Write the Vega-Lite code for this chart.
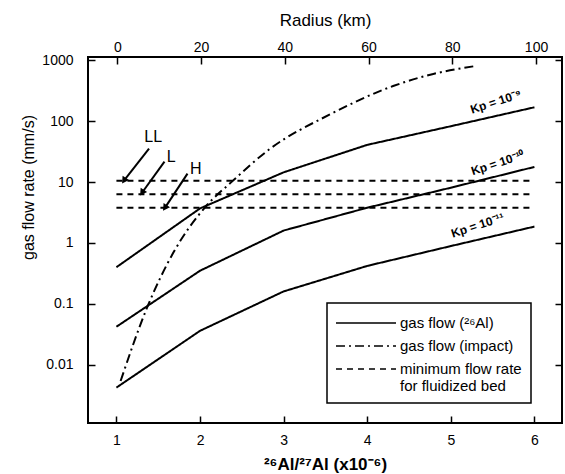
{
  "$schema": "https://vega.github.io/schema/vega-lite/v6.json",
  "width": 474,
  "height": 366,
  "autosize": {"type": "none"},
  "padding": {"left": 88, "top": 57, "right": 3, "bottom": 51},
  "config": {
    "font": "Liberation Sans",
    "view": {"stroke": "black", "strokeWidth": 2},
    "axis": {"grid": false, "domain": false, "tickColor": "black", "tickWidth": 1.5, "tickSize": -7, "labelColor": "black", "titleColor": "black", "labelFontSize": 14, "titleFontSize": 16, "titleFontWeight": "normal", "labelPadding": 10},
    "legend": {"orient": "none", "legendX": 239, "legendY": 246, "strokeColor": "black", "strokeWidth": 1.5, "padding": 9, "symbolType": "M-3,0H3", "symbolSize": 400, "symbolOffset": 19, "labelOffset": 23, "symbolStrokeWidth": 1.5, "symbolStrokeColor": "black", "labelFontSize": 15, "labelColor": "black", "rowPadding": 4, "labelLimit": 400, "title": null}
  },
  "datasets": {
    "curves": [
      {"curve": "kp9", "kind": "gas flow (²⁶Al)", "x": 1, "y": 0.40},
      {"curve": "kp9", "kind": "gas flow (²⁶Al)", "x": 2, "y": 3.7},
      {"curve": "kp9", "kind": "gas flow (²⁶Al)", "x": 3, "y": 14.5},
      {"curve": "kp9", "kind": "gas flow (²⁶Al)", "x": 4, "y": 41},
      {"curve": "kp9", "kind": "gas flow (²⁶Al)", "x": 5, "y": 83},
      {"curve": "kp9", "kind": "gas flow (²⁶Al)", "x": 6, "y": 170},
      {"curve": "kp10", "kind": "gas flow (²⁶Al)", "x": 1, "y": 0.042},
      {"curve": "kp10", "kind": "gas flow (²⁶Al)", "x": 2, "y": 0.35},
      {"curve": "kp10", "kind": "gas flow (²⁶Al)", "x": 3, "y": 1.6},
      {"curve": "kp10", "kind": "gas flow (²⁶Al)", "x": 4, "y": 3.8},
      {"curve": "kp10", "kind": "gas flow (²⁶Al)", "x": 5, "y": 8.1},
      {"curve": "kp10", "kind": "gas flow (²⁶Al)", "x": 6, "y": 17.8},
      {"curve": "kp11", "kind": "gas flow (²⁶Al)", "x": 1, "y": 0.0042},
      {"curve": "kp11", "kind": "gas flow (²⁶Al)", "x": 2, "y": 0.036},
      {"curve": "kp11", "kind": "gas flow (²⁶Al)", "x": 3, "y": 0.16},
      {"curve": "kp11", "kind": "gas flow (²⁶Al)", "x": 4, "y": 0.42},
      {"curve": "kp11", "kind": "gas flow (²⁶Al)", "x": 5, "y": 0.89},
      {"curve": "kp11", "kind": "gas flow (²⁶Al)", "x": 6, "y": 1.86},
      {"curve": "LL", "kind": "minimum flow rate for fluidized bed", "x": 1.0, "y": 10.5},
      {"curve": "LL", "kind": "minimum flow rate for fluidized bed", "x": 6.0, "y": 10.5},
      {"curve": "L", "kind": "minimum flow rate for fluidized bed", "x": 1.0, "y": 6.3},
      {"curve": "L", "kind": "minimum flow rate for fluidized bed", "x": 6.0, "y": 6.3},
      {"curve": "H", "kind": "minimum flow rate for fluidized bed", "x": 1.0, "y": 3.8},
      {"curve": "H", "kind": "minimum flow rate for fluidized bed", "x": 6.0, "y": 3.8}
    ],
    "impact": [
      {"curve": "impact", "kind": "gas flow (impact)", "x": 1.05, "y": 0.0054},
      {"curve": "impact", "kind": "gas flow (impact)", "x": 1.37, "y": 0.089},
      {"curve": "impact", "kind": "gas flow (impact)", "x": 1.69, "y": 0.73},
      {"curve": "impact", "kind": "gas flow (impact)", "x": 2.06, "y": 3.86},
      {"curve": "impact", "kind": "gas flow (impact)", "x": 2.385, "y": 10.3},
      {"curve": "impact", "kind": "gas flow (impact)", "x": 2.83, "y": 34.7},
      {"curve": "impact", "kind": "gas flow (impact)", "x": 3.56, "y": 131},
      {"curve": "impact", "kind": "gas flow (impact)", "x": 4.31, "y": 380},
      {"curve": "impact", "kind": "gas flow (impact)", "x": 4.79, "y": 600},
      {"curve": "impact", "kind": "gas flow (impact)", "x": 5.27, "y": 800}
    ],
    "arrows": [
      {"name": "LL", "x": 1.39, "y": 35.5, "xh": 1.09, "yh": 10.6},
      {"name": "L", "x": 1.575, "y": 21.7, "xh": 1.306, "yh": 6.7},
      {"name": "H", "x": 1.85, "y": 13.8, "xh": 1.58, "yh": 3.77}
    ],
    "labels": [
      {"text": "LL", "x": 1.44, "y": 56},
      {"text": "L", "x": 1.656, "y": 26},
      {"text": "H", "x": 1.95, "y": 16.5}
    ],
    "kp": [
      {"text": "Kp = 10⁻⁹", "x": 5.54, "y": 210},
      {"text": "Kp = 10⁻¹⁰", "x": 5.56, "y": 20.6},
      {"text": "Kp = 10⁻¹¹", "x": 5.32, "y": 1.95}
    ],
    "top": [{"R": 0, "v": 1}, {"R": 100, "v": 1}]
  },
  "layer": [
    {
      "encoding": {
        "x": {"field": "x", "type": "quantitative", "scale": {"domain": [0.66, 6.33], "nice": false, "zero": false},
              "axis": {"orient": "bottom", "values": [1, 2, 3, 4, 5, 6], "format": "d", "labelPadding": 17, "title": "²⁶Al/²⁷Al (x10⁻⁶)", "titleFontSize": 17, "titleFontWeight": "bold", "titleY": 33}},
        "y": {"field": "y", "type": "quantitative", "scale": {"type": "log", "domain": [0.0011, 1140], "nice": false},
              "axis": {"orient": "left", "values": [0.01, 0.1, 1, 10, 100, 1000], "format": "~g", "labelPadding": 22, "title": "gas flow rate (mm/s)", "titleX": -52, "titleY": 130}}
      },
      "layer": [
        {
          "data": {"name": "curves"},
          "mark": {"type": "line", "color": "black", "strokeWidth": 2},
          "encoding": {
            "detail": {"field": "curve"},
            "strokeDash": {"field": "kind", "type": "nominal",
              "scale": {"domain": ["gas flow (²⁶Al)", "gas flow (impact)", "minimum flow rate for fluidized bed"], "range": [[1, 0], [9, 4, 2, 4], [6, 5]]},
              "legend": {"labelExpr": "datum.label == 'minimum flow rate for fluidized bed' ? ['minimum flow rate', 'for fluidized bed'] : datum.label"}}
          }
        },
        {
          "data": {"name": "impact"},
          "mark": {"type": "line", "color": "black", "strokeWidth": 2, "interpolate": "monotone"},
          "encoding": {
            "strokeDash": {"field": "kind", "type": "nominal"}
          }
        },
        {
          "data": {"name": "arrows"},
          "mark": {"type": "rule", "color": "black", "strokeWidth": 2},
          "encoding": {"x2": {"field": "xh"}, "y2": {"field": "yh"}}
        },
        {
          "data": {"name": "arrows"},
          "mark": {"type": "point", "shape": "triangle-up", "filled": true, "color": "black", "opacity": 1, "size": 60, "angle": 214},
          "encoding": {"x": {"field": "xh", "type": "quantitative"}, "y": {"field": "yh", "type": "quantitative"}}
        },
        {
          "data": {"name": "labels"},
          "mark": {"type": "text", "fontSize": 16, "color": "black"},
          "encoding": {"text": {"field": "text"}}
        },
        {
          "data": {"name": "kp"},
          "mark": {"type": "text", "fontSize": 12, "fontWeight": "bold", "color": "black", "angle": -18},
          "encoding": {"text": {"field": "text"}}
        }
      ]
    },
    {
      "data": {"name": "top"},
      "mark": {"type": "point", "opacity": 0},
      "encoding": {
        "x": {"field": "R", "type": "quantitative", "scale": {"domain": [-7, 106.2], "nice": false, "zero": false},
              "axis": {"orient": "top", "values": [0, 20, 40, 60, 80, 100], "title": "Radius (km)", "titleFontSize": 17, "titleY": -28}},
        "y": {"field": "v", "type": "quantitative", "scale": {"type": "log", "domain": [0.0011, 1140], "nice": false},
              "axis": {"orient": "right", "values": [0.01, 0.1, 1, 10, 100, 1000], "labels": false, "title": null}}
      }
    }
  ],
  "resolve": {"scale": {"x": "independent", "y": "independent"}, "axis": {"x": "independent", "y": "independent"}}
}
